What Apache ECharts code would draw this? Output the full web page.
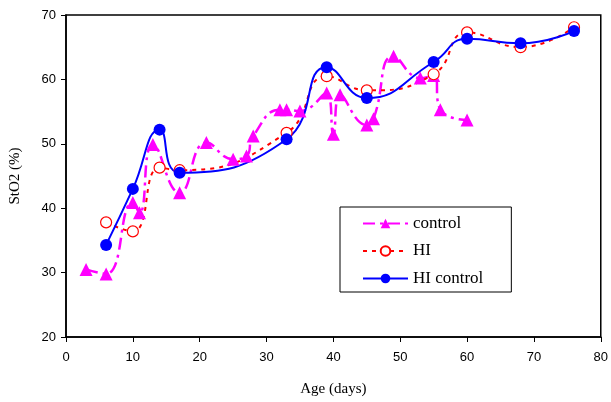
<!DOCTYPE html>
<html>
<head>
<meta charset="utf-8">
<script src="https://cdn.jsdelivr.net/npm/echarts@6/dist/echarts.min.js"></script>
<style>
  html, body { margin: 0; padding: 0; background: #fff; }
  #chart { width: 611px; height: 402px; }
</style>
</head>
<body>
<div id="chart"></div>
<script>
  // data: age in days, StO2 in %
  var controlAge = [3, 6, 10, 11, 13, 17, 21, 25, 27, 28, 32, 33, 35, 39, 40, 41, 45, 46, 49, 53, 55, 56, 60];
  var controlSto2 = [30.5, 29.8, 40.9, 39.3, 49.9, 42.4, 50.2, 47.6, 48.1, 51.2, 55.3, 55.3, 55.1, 57.9, 51.5, 57.6, 52.9, 53.9, 63.6, 60.2, 60.6, 55.3, 53.7];

  var hiAge = [6, 10, 14, 17, 33, 39, 45, 55, 60, 68, 76];
  var hiSto2 = [37.8, 36.4, 46.3, 45.9, 51.7, 60.5, 58.3, 60.8, 67.3, 65.0, 68.1];

  var hiControlAge = [6, 10, 14, 17, 33, 39, 45, 55, 60, 68, 76];
  var hiControlSto2 = [34.3, 43.0, 52.2, 45.5, 50.7, 61.9, 57.1, 62.7, 66.3, 65.6, 67.5];

  var xTicks = [0, 80, 10];   // min, max, step
  var yTicks = [20, 70, 10];

  var sansFont = "'Liberation Sans', Arial, sans-serif";
  var serifFont = "'Liberation Serif', serif";

  function pairs(xs, ys) {
    var out = [];
    for (var i = 0; i < xs.length; i++) out.push([xs[i], ys[i]]);
    return out;
  }

  var chart = echarts.init(document.getElementById('chart'));
  chart.setOption({
    animation: false,
    backgroundColor: '#fff',
    textStyle: { fontFamily: sansFont },
    grid: {
      left: 64, right: 8, top: 15, bottom: 63,
      show: true,
      borderColor: '#000',
      borderWidth: 1.5
    },
    legend: {
      orient: 'vertical',
      left: 340,
      top: 207,
      padding: [8, 28, 5, 22],
      itemGap: 10.5,
      itemWidth: 45,
      itemHeight: 12,
      backgroundColor: '#fff',
      borderColor: '#000',
      borderWidth: 1,
      textStyle: { fontFamily: serifFont, fontSize: 17, color: '#000' },
      data: ['control', 'HI', 'HI control']
    },
    xAxis: {
      type: 'value',
      min: xTicks[0], max: xTicks[1], interval: xTicks[2],
      name: 'Age (days)',
      nameLocation: 'middle',
      nameGap: 45,
      nameTextStyle: { fontFamily: serifFont, fontSize: 15, color: '#000' },
      axisLine: { show: true, lineStyle: { color: '#000', width: 1.5 } },
      axisTick: { show: true, inside: false, length: 5, lineStyle: { color: '#000' } },
      axisLabel: { fontFamily: sansFont, fontSize: 13, color: '#000', margin: 14 },
      splitLine: { show: false }
    },
    yAxis: {
      type: 'value',
      min: yTicks[0], max: yTicks[1], interval: yTicks[2],
      name: 'StO2 (%)',
      nameLocation: 'middle',
      nameGap: 43,
      nameTextStyle: { fontFamily: serifFont, fontSize: 15, color: '#000' },
      axisLine: { show: true, lineStyle: { color: '#000', width: 1.5 } },
      axisTick: { show: true, inside: false, length: 5, lineStyle: { color: '#000' } },
      axisLabel: { fontFamily: sansFont, fontSize: 13, color: '#000', margin: 10 },
      splitLine: { show: false }
    },
    series: [
      {
        name: 'control',
        type: 'line',
        smooth: 0.5,
        data: pairs(controlAge, controlSto2),
        symbol: 'triangle',
        symbolSize: 13,
        itemStyle: { color: '#ff00ff' },
        lineStyle: { color: '#ff00ff', width: 2.5, type: [12, 5, 3, 5] }
      },
      {
        name: 'HI',
        type: 'line',
        smooth: 0.5,
        data: pairs(hiAge, hiSto2),
        symbol: 'circle',
        symbolSize: 11,
        itemStyle: { color: '#fff', borderColor: '#ff0000', borderWidth: 1.2 },
        lineStyle: { color: '#ff0000', width: 2, type: [4, 5] }
      },
      {
        name: 'HI control',
        type: 'line',
        smooth: 0.5,
        data: pairs(hiControlAge, hiControlSto2),
        symbol: 'circle',
        symbolSize: 12,
        itemStyle: { color: '#0000ff' },
        lineStyle: { color: '#0000ff', width: 2 }
      }
    ]
  });
</script>
</body>
</html>
